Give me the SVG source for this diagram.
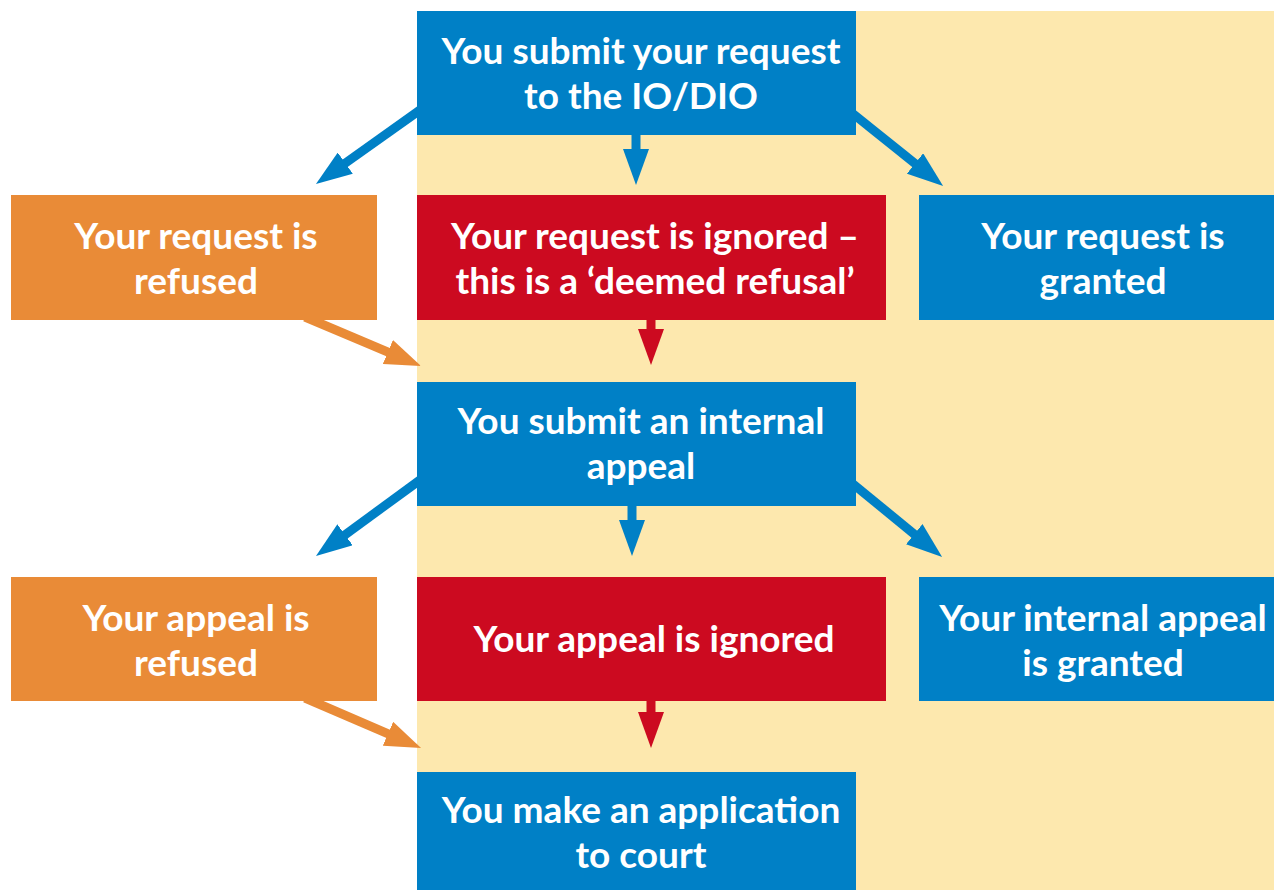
<svg xmlns="http://www.w3.org/2000/svg" width="1274" height="890" viewBox="0 0 1274 890">
  <style>
    .blue { fill: #0080C6; }
    .orange { fill: #E98B37; }
    .red { fill: #CC0A20; }
    .label { font-family: Lato, "Liberation Sans", sans-serif; font-weight: 700; font-size: 37px; fill: #FFFFFF; text-anchor: middle; }
    .line { stroke-width: 9; fill: none; }
    .line-thin { stroke-width: 9; fill: none; }
  </style>
  <defs>
    <marker id="head-blue" markerUnits="userSpaceOnUse" markerWidth="36" markerHeight="26" refX="6" refY="13" orient="auto">
      <path d="M0,0 L36,13 L0,26 z" fill="#0080C6"/>
    </marker>
    <marker id="head-orange" markerUnits="userSpaceOnUse" markerWidth="36" markerHeight="26" refX="6" refY="13" orient="auto">
      <path d="M0,0 L36,13 L0,26 z" fill="#E98B37"/>
    </marker>
    <marker id="head-red" markerUnits="userSpaceOnUse" markerWidth="36" markerHeight="26" refX="6" refY="13" orient="auto">
      <path d="M0,0 L36,13 L0,26 z" fill="#CC0A20"/>
    </marker>
  </defs>

  <rect width="1274" height="890" fill="#FFFFFF"/>
  <!-- cream panel behind the central and right columns -->
  <rect x="417" y="11" width="857" height="879" fill="#FDE8AE"/>

  <g id="connectors">
    <line class="line" stroke="#0080C6" x1="420" y1="110" x2="340.4" y2="166.6" marker-end="url(#head-blue)"/>
    <line class="line" stroke="#0080C6" x1="636" y1="134" x2="636" y2="155" marker-end="url(#head-blue)"/>
    <line class="line" stroke="#0080C6" x1="852" y1="113" x2="919.7" y2="167.2" marker-end="url(#head-blue)"/>
    <line class="line" stroke="#E98B37" x1="305" y1="317" x2="393.4" y2="354.3" marker-end="url(#head-orange)"/>
    <line class="line" stroke="#CC0A20" x1="651" y1="319" x2="651" y2="335" marker-end="url(#head-red)"/>
    <line class="line" stroke="#0080C6" x1="420" y1="480" x2="340.2" y2="538.3" marker-end="url(#head-blue)"/>
    <line class="line" stroke="#0080C6" x1="632" y1="505" x2="632" y2="526" marker-end="url(#head-blue)"/>
    <line class="line" stroke="#0080C6" x1="853" y1="484" x2="918.9" y2="537.9" marker-end="url(#head-blue)"/>
    <line class="line" stroke="#E98B37" x1="305" y1="698" x2="393.5" y2="736.1" marker-end="url(#head-orange)"/>
    <line class="line" stroke="#CC0A20" x1="651" y1="700" x2="651" y2="718" marker-end="url(#head-red)"/>
  </g>

  <g id="submit-request">
    <rect class="blue" x="417" y="11" width="439" height="124"/>
    <text class="label" x="641" y="64">You submit your request</text>
    <text class="label" x="641" y="109">to the IO/DIO</text>
  </g>

  <g id="request-refused">
    <rect class="orange" x="11" y="195" width="366" height="125"/>
    <text class="label" x="196" y="249">Your request is</text>
    <text class="label" x="196" y="294">refused</text>
  </g>

  <g id="request-ignored">
    <rect class="red" x="417" y="195" width="469" height="125"/>
    <text class="label" x="655" y="249">Your request is ignored –</text>
    <text class="label" x="655" y="294">this is a ‘deemed refusal’</text>
  </g>

  <g id="request-granted">
    <rect class="blue" x="919" y="195" width="355" height="125"/>
    <text class="label" x="1103" y="249">Your request is</text>
    <text class="label" x="1103" y="294">granted</text>
  </g>

  <g id="internal-appeal">
    <rect class="blue" x="417" y="382" width="439" height="124"/>
    <text class="label" x="641" y="434">You submit an internal</text>
    <text class="label" x="641" y="479">appeal</text>
  </g>

  <g id="appeal-refused">
    <rect class="orange" x="11" y="577" width="366" height="124"/>
    <text class="label" x="196" y="631">Your appeal is</text>
    <text class="label" x="196" y="676">refused</text>
  </g>

  <g id="appeal-ignored">
    <rect class="red" x="417" y="577" width="469" height="124"/>
    <text class="label" x="654" y="652">Your appeal is ignored</text>
  </g>

  <g id="appeal-granted">
    <rect class="blue" x="919" y="577" width="355" height="124"/>
    <text class="label" x="1103" y="631">Your internal appeal</text>
    <text class="label" x="1103" y="676">is granted</text>
  </g>

  <g id="court-application">
    <rect class="blue" x="417" y="772" width="439" height="118"/>
    <text class="label" x="641" y="823">You make an application</text>
    <text class="label" x="641" y="868">to court</text>
  </g>
</svg>
